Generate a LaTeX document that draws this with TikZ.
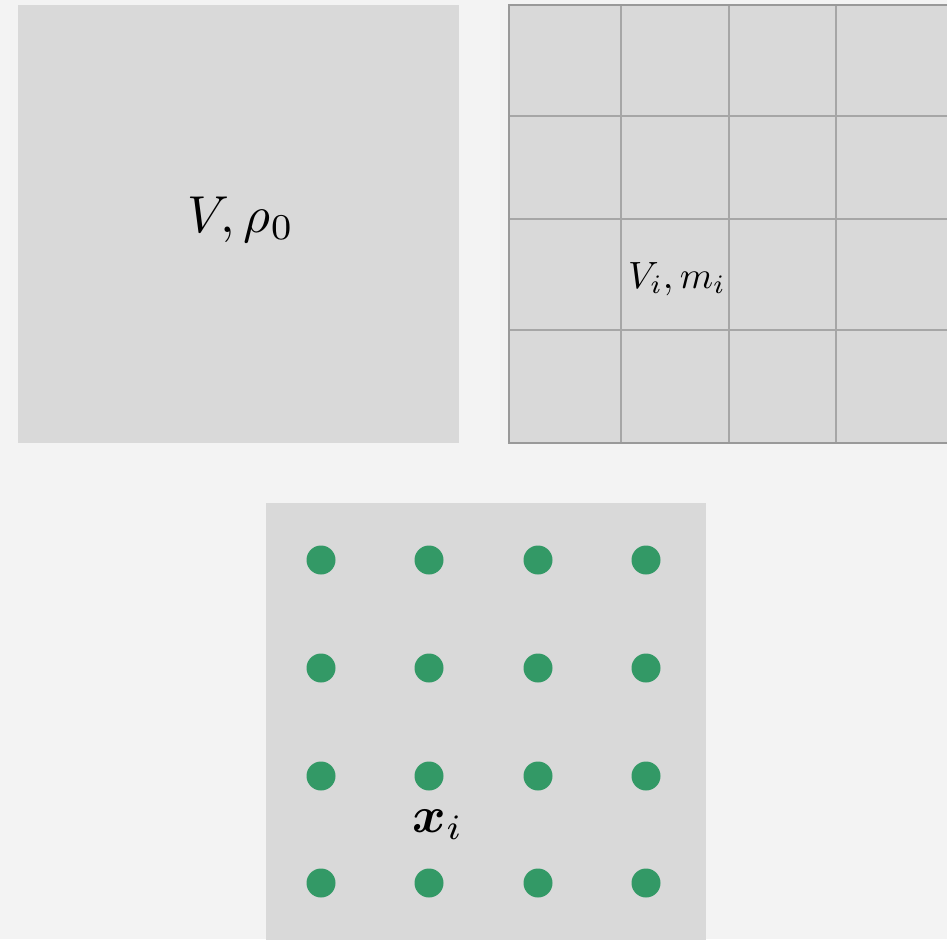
\documentclass[tikz,border=0pt]{standalone}
\usepackage{graphicx}
\usepackage{amsmath,bm}
\definecolor{bgc}{HTML}{F3F3F3}
\definecolor{panel}{HTML}{D9D9D9}
\definecolor{gridc}{HTML}{A6A6A6}
\definecolor{edgec}{HTML}{999999}
\definecolor{dotc}{HTML}{339966}
\tikzset{
  panelbox/.style={fill=panel, draw=none},
  gridline/.style={draw=gridc, line width=2.2pt},
  dotnode/.style={circle, fill=dotc, minimum size=29pt, inner sep=0pt, draw=none},
  lbl/.style={inner sep=0pt, anchor=base}
}
\begin{document}
\begin{tikzpicture}[x=1pt,y=-1pt]
\fill[bgc] (0,0) rectangle (947,939);
\useasboundingbox (0,0) rectangle (947,939);
\begin{scope}
\clip (0,0) rectangle (947,939);
% top-left panel
\fill[panelbox] (18,5) rectangle (459,443);
\node[lbl] (vrho) at (241,232) {\scalebox{5.2}{$V,\rho_0$}};
% top-right grid panel
\fill[panelbox] (509,5) rectangle (951,443);
\foreach \x in {621,729,836} \draw[gridline] (\x,5) -- (\x,443);
\foreach \y in {116,219,330} \draw[gridline] (509,\y) -- (951,\y);
\draw[draw=edgec, line width=2.2pt] (509,5) rectangle (951,443);
\node[lbl] (vm) at (677,288) {\scalebox{3.8}{$V_i,m_i$}};
% bottom panel
\fill[panelbox] (266,503) rectangle (706,945);
\foreach \i/\x in {1/321,2/429,3/538,4/646}
  \foreach \j/\y in {1/560,2/668,3/776,4/883}
    \node[dotnode] (d\i\j) at (\x,\y) {};
\node[lbl] (xi) at (438,832) {\scalebox{5.1}{$\bm{x}_i$}};
\end{scope}
\end{tikzpicture}
\end{document}
